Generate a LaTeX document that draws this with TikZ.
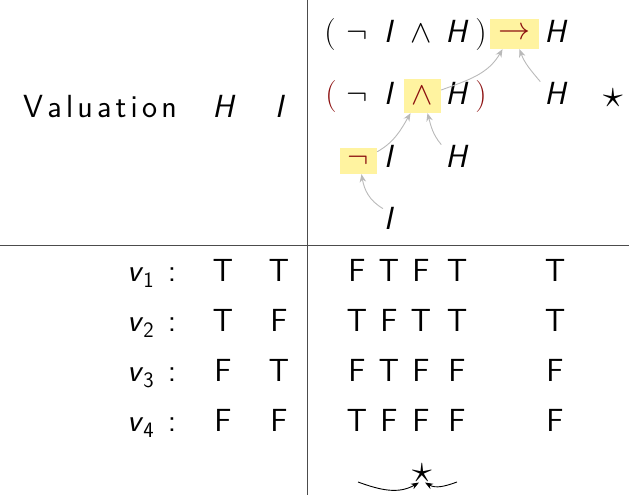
\RequirePackage{fix-cm}
\documentclass[tikz,border=0pt]{standalone}
\usepackage{fontspec}
\usetikzlibrary{arrows.meta}
\definecolor{hly}{RGB}{255,243,160}
\definecolor{dred}{RGB}{140,15,15}
\definecolor{agray}{RGB}{185,185,185}
\newcommand\lsp{\kern4.2pt}
\newcommand\bigstr{\scalebox{1.25}{$\star$}}
\begin{document}
\begin{tikzpicture}[x=1pt,y=1pt,
  font=\fontsize{32}{38}\selectfont\sffamily,
  txt/.style={anchor=base,inner sep=0pt},
  hlbox/.style={fill=hly,inner sep=0pt,text=dred},
  rulel/.style={draw=black!70,line width=0.9pt},
  garrow/.style={draw=agray,line width=0.9pt,-{Stealth[length=8pt,width=6.5pt]}},
  barrow/.style={draw=black,line width=0.9pt,-{Stealth[length=8pt,width=6pt]}}]
\useasboundingbox (0,0) rectangle (629,-495);
% rules
\coordinate (hl) at (0,-245);
\coordinate (hr) at (629,-245);
\coordinate (vt) at (307,0);
\coordinate (vb) at (307,-495);
\draw[rulel] (hl) -- (hr);
\draw[rulel] (vt) -- (vb);
% header
\node[txt] (val) at (100,-117) {V\lsp a\lsp l\lsp u\lsp a\lsp t\lsp i\lsp o\lsp n};
\node[txt] (hH) at (224,-117) {\textit{H}};
\node[txt] (hI) at (280,-117) {\textit{I}};
% formula row 1
\node[txt] (p1) at (330,-43) {$($};
\node[txt] (n1) at (357,-43) {$\neg$};
\node[txt] (i1) at (389,-43) {\textit{I}};
\node[txt] (a1) at (421,-43) {$\wedge$};
\node[txt] (h1) at (457,-43) {\textit{H}};
\node[txt] (q1) at (481,-43) {$)$};
\node[hlbox,minimum width=49pt,minimum height=30pt] (imp) at (514.5,-34) {$\rightarrow$};
\node[txt] (h1b) at (556,-43) {\textit{H}};
% formula row 2
\node[txt,text=dred] (p2) at (331,-104) {$($};
\node[txt] (n2) at (357,-104) {$\neg$};
\node[txt] (i2) at (389,-104) {\textit{I}};
\node[hlbox,minimum width=37pt,minimum height=34pt] (and) at (422.5,-96) {$\wedge$};
\node[txt] (h2) at (457,-104) {\textit{H}};
\node[txt,text=dred] (q2) at (481,-104) {$)$};
\node[txt] (h2b) at (556,-104) {\textit{H}};
\node[inner sep=0pt] (st) at (613,-98) {\bigstr};
% formula row 3
\node[hlbox,minimum width=37pt,minimum height=26pt] (neg) at (358.5,-161) {$\neg$};
\node[txt] (i3) at (389,-167) {\textit{I}};
\node[txt] (h3) at (457,-167) {\textit{H}};
% formula row 4
\node[txt] (i4) at (389,-229) {\textit{I}};
% gray arrows
\draw[garrow] ([xshift=-6pt,yshift=-2pt]i4.north) to[out=150,in=-80] ([xshift=3pt]neg.south);
\draw[garrow] ([yshift=-4pt]neg.north east) to[out=30,in=240] ([xshift=-12pt]and.south);
\draw[garrow] ([xshift=-4pt]h3.north west) to[out=130,in=-75] ([xshift=5pt]and.south);
\draw[garrow] ([yshift=6pt]and.east) to[out=20,in=240] ([xshift=-12pt]imp.south);
\draw[garrow] ([xshift=-4pt]h2b.north west) to[out=130,in=-70] ([xshift=5pt]imp.south);
% table rows
\foreach \r/\y/\a/\b/\c/\d/\e/\f/\g in {1/281/T/T/F/T/F/T/T, 2/331/T/F/T/F/T/T/T, 3/381/F/T/F/T/F/F/F, 4/431/F/F/T/F/F/F/F}{
  \node[txt,anchor=base west] (v\r) at (127,-\y) {\textit{v}\raisebox{-6pt}{\fontsize{22}{22}\selectfont\r}};
  \node[txt] (c\r) at (172,-\y) {:};
  \node[txt] (tH\r) at (223,-\y) {\a};
  \node[txt] (tI\r) at (279,-\y) {\b};
  \node[txt] (x1\r) at (357,-\y) {\c};
  \node[txt] (x2\r) at (389,-\y) {\d};
  \node[txt] (x3\r) at (421,-\y) {\e};
  \node[txt] (x4\r) at (457,-\y) {\f};
  \node[txt] (x5\r) at (555,-\y) {\g};
}
% bottom star
\node[inner sep=0pt] (bs) at (422,-473) {\bigstr};
\coordinate (la) at (358,-482);
\coordinate (ra) at (457,-482);
\draw[barrow] (la) to[out=-20,in=210] ([xshift=-3pt]bs.south);
\draw[barrow] (ra) to[out=200,in=-30] ([xshift=3pt]bs.south);
\end{tikzpicture}
\end{document}
